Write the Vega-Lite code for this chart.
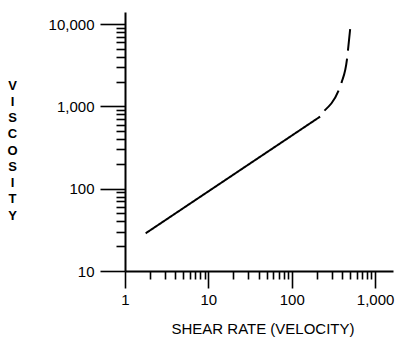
{
  "$schema": "https://vega.github.io/schema/vega-lite/v6.json",
  "autosize": {"type": "none"},
  "padding": {"left": 125, "top": 12, "right": 5, "bottom": 68},
  "width": 268,
  "height": 259,
  "background": "white",
  "config": {
    "view": {"stroke": null},
    "axis": {"grid": false, "domainColor": "black", "tickColor": "black", "labelColor": "black", "titleColor": "black", "labelFont": "Liberation Sans", "titleFont": "Liberation Sans", "labelFontSize": 15, "titleFontWeight": "normal", "domainWidth": 2, "tickWidth": 1.6}
  },
  "data": {"values": [
    {"rate": 1.77, "viscosity": 28.7, "segment": "measured"},
    {"rate": 219, "viscosity": 750, "segment": "measured"},
    {"rate": 247, "viscosity": 887, "segment": "projected"},
    {"rate": 374, "viscosity": 1660, "segment": "projected"},
    {"rate": 399, "viscosity": 1995, "segment": "projected"},
    {"rate": 459, "viscosity": 3664, "segment": "projected"},
    {"rate": 471, "viscosity": 4620, "segment": "projected"},
    {"rate": 502, "viscosity": 8650, "segment": "projected"}
  ]},
  "mark": {"type": "line", "color": "black", "strokeWidth": 2, "interpolate": "monotone"},
  "encoding": {
    "x": {
      "field": "rate", "type": "quantitative",
      "scale": {"type": "log", "domain": [1, 1640], "nice": false},
      "axis": {
        "title": "SHEAR RATE (VELOCITY)",
        "titleFontSize": 15,
        "titleX": 137.5, "titleY": 57, "titleAlign": "center", "titleBaseline": "middle", "titleAnchor": null,
        "values": [1,2,3,4,5,6,7,8,9,10,20,30,40,50,60,70,80,90,100,200,300,400,500,600,700,800,900,1000],
        "labelExpr": "indexof([1,10,100,1000], datum.value) >= 0 ? format(datum.value, ',') : ''",
        "tickSize": {"condition": {"test": "indexof([1,10,100,1000], datum.value) >= 0", "value": 17}, "value": 8},
        "labelPadding": 4,
        "labelFlush": false,
        "labelOverlap": false
      }
    },
    "y": {
      "field": "viscosity", "type": "quantitative",
      "scale": {"type": "log", "domain": [10, 14000], "nice": false},
      "axis": {
        "title": ["V","I","S","C","O","S","I","T","Y"],
        "titleFontSize": 13,
        "titleFontWeight": "bold",
        "titleAngle": 0,
        "titleLineHeight": 16.25,
        "titleX": -113, "titleY": 67, "titleAlign": "center", "titleBaseline": "top", "titleAnchor": null,
        "values": [10,20,30,40,50,60,70,80,90,100,200,300,400,500,600,700,800,900,1000,2000,3000,4000,5000,6000,7000,8000,9000,10000],
        "labelExpr": "indexof([10,100,1000,10000], datum.value) >= 0 ? format(datum.value, ',') : ''",
        "tickSize": {"condition": {"test": "indexof([10,100,1000,10000], datum.value) >= 0", "value": 25}, "value": 9},
        "labelPadding": 6,
        "labelFlush": false,
        "labelOverlap": false
      }
    },
    "strokeDash": {
      "field": "segment", "type": "nominal",
      "scale": {"domain": ["measured", "projected"], "range": [[1, 0], [25, 8]]},
      "legend": null
    }
  }
}
